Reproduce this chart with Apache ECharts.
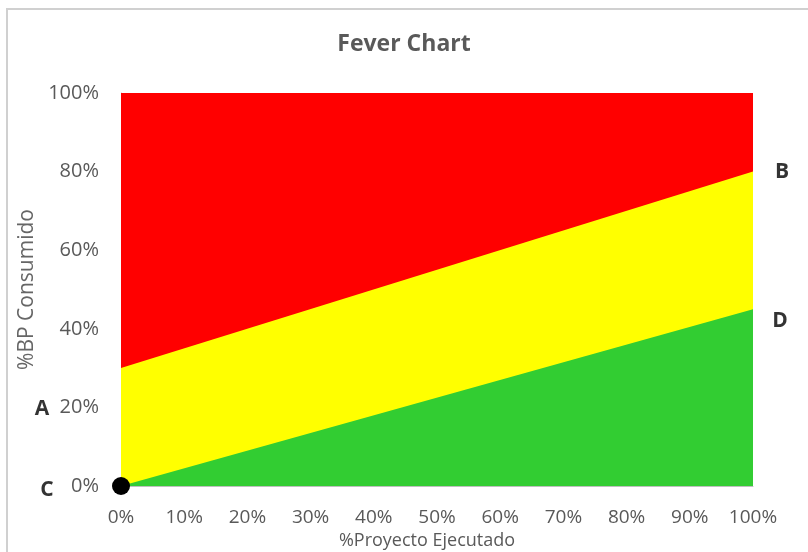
<!DOCTYPE html>
<html>
<head>
<meta charset="utf-8">
<script src="https://cdn.jsdelivr.net/npm/echarts@6/dist/echarts.min.js"></script>
<style>html,body{margin:0;padding:0;background:#fff;}#c{width:808px;height:552px;}</style>
</head>
<body>
<div id="c"></div>
<script>
// Data
const xTicks = [0, 10, 20, 30, 40, 50, 60, 70, 80, 90, 100];
const yTicks = [0, 20, 40, 60, 80, 100];
const redZone = [[0, 100], [100, 100]];
const yellowZone = [[0, 30], [100, 80]];
const greenZone = [[0, 0], [100, 45]];
const startPoint = [[0, 0]];
const annotLabels = ['A', 'B', 'C', 'D'];
const annotPoints = [[0, 20], [100, 80], [0, 0], [100, 42]];

const FONT = '"Open Sans", Lato, sans-serif';
const chart = echarts.init(document.getElementById('c'), null, {renderer: 'canvas'});

function zone(data, color) {
  return {
    type: 'line', data: data, symbol: 'none', silent: true,
    lineStyle: {width: 0, color: color},
    areaStyle: {color: color, opacity: 1, origin: 'start'},
    animation: false
  };
}

const annotOffsets = [[-79, 2], [29, 0], [-74, 4], [27, 0]];

chart.setOption({
  animation: false,
  backgroundColor: '#fff',
  title: {
    text: 'Fever Chart', left: 'center', top: 28,
    textStyle: {fontFamily: FONT, fontSize: 23, fontWeight: 'bold', color: '#595959'}
  },
  graphic: [{
    type: 'rect', shape: {x: 7, y: 9, width: 900, height: 700},
    style: {fill: 'none', stroke: '#d0d0d0', lineWidth: 2}, silent: true, z: -10
  }],
  grid: {left: 121, right: 55, top: 93, bottom: 66, containLabel: false, outerBoundsMode: 'none'},
  xAxis: {
    type: 'value', min: 0, max: 100, interval: 10,
    name: '%Proyecto Ejecutado', nameLocation: 'middle', nameGap: 38,
    nameTextStyle: {fontFamily: FONT, fontSize: 18, color: '#595959', padding: [0, 20, 0, 0]},
    axisLine: {show: true, lineStyle: {color: '#bfbfbf', width: 1}},
    axisTick: {show: false}, splitLine: {show: false},
    axisLabel: {formatter: v => v + '%', fontFamily: FONT, fontSize: 19, color: '#595959', margin: 22}
  },
  yAxis: {
    type: 'value', min: 0, max: 100, interval: 20,
    name: '%BP Consumido', nameLocation: 'middle', nameGap: 77, nameRotate: 90,
    nameTextStyle: {fontFamily: FONT, fontSize: 21, color: '#666666'},
    axisLine: {show: true, lineStyle: {color: '#bfbfbf', width: 1}},
    axisTick: {show: false}, splitLine: {show: false},
    axisLabel: {formatter: v => v + '%', fontFamily: FONT, fontSize: 20, color: '#595959', margin: 22, padding: [8, 0, 0, 0]}
  },
  series: [
    zone(redZone, '#ff0000'),
    zone(yellowZone, '#ffff00'),
    zone(greenZone, '#32cd32'),
    {
      type: 'scatter', data: startPoint, symbolSize: 18, clip: false,
      itemStyle: {color: '#000', opacity: 1}, z: 10, silent: true
    },
    {
      type: 'scatter', clip: false, symbolSize: 0, silent: true, z: 11,
      data: annotPoints.map((p, i) => ({
        value: p,
        label: {
          show: true, formatter: annotLabels[i], position: 'inside', offset: annotOffsets[i],
          fontFamily: FONT, fontSize: 21, fontWeight: 'bold', color: '#000'
        }
      }))
    }
  ]
});
</script>
</body>
</html>
